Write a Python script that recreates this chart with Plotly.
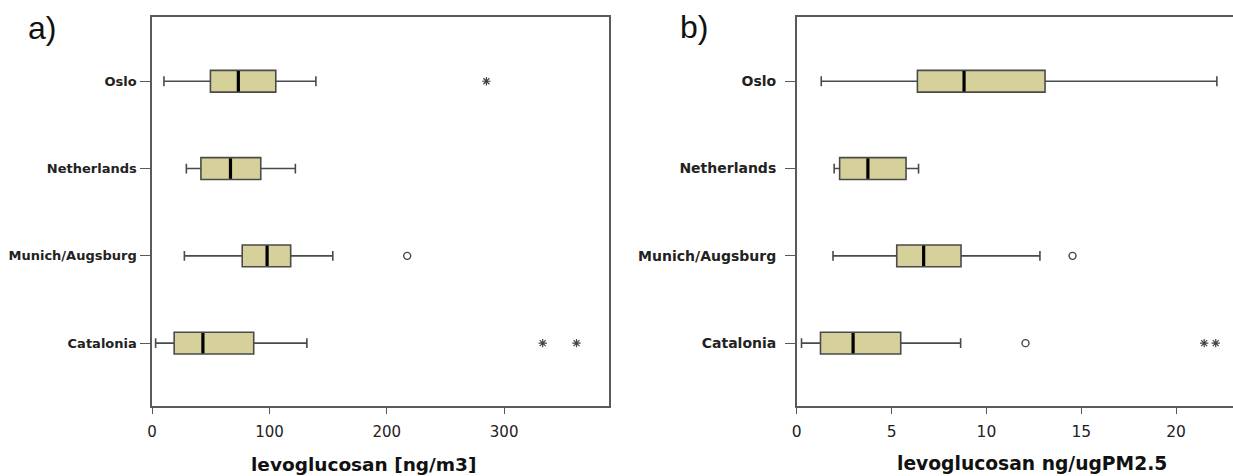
import plotly.graph_objects as go

# ---------------- data ----------------
categories = ["Oslo", "Netherlands", "Munich/Augsburg", "Catalonia"]

# panel a) levoglucosan [ng/m3]
a_low = [10.1, 29.2, 27.5, 3.0]
a_q1 = [49.7, 41.6, 76.8, 18.8]
a_med = [73.5, 66.8, 98.0, 43.3]
a_q3 = [105.4, 92.6, 118.1, 86.6]
a_high = [139.6, 122.1, 154.0, 131.9]
a_out_cat = ["Munich/Augsburg"]
a_out_val = [217.4]
a_ext_cat = ["Oslo", "Catalonia", "Catalonia"]
a_ext_val = [284.9, 332.9, 361.7]

# panel b) levoglucosan ng/ugPM2.5
b_low = [1.29, 1.97, 1.91, 0.25]
b_q1 = [6.36, 2.26, 5.27, 1.25]
b_med = [8.82, 3.75, 6.69, 2.97]
b_q3 = [13.09, 5.76, 8.66, 5.48]
b_high = [22.15, 6.42, 12.82, 8.64]
b_out_cat = ["Munich/Augsburg", "Catalonia"]
b_out_val = [14.54, 12.06]
b_ext_cat = ["Catalonia", "Catalonia"]
b_ext_val = [21.48, 22.09]

a_ticks = [0, 100, 200, 300]
b_ticks = [0, 5, 10, 15, 20]

# ---------------- style ----------------
W, H = 1233, 476
FILL = "#D6D09B"
EDGE = "#4a4a4a"
AX = "#5a5a5a"
FONT = "DejaVu Sans"

fig = go.Figure()


def add_panel(xa, ya, low, q1, med, q3, high, oc, ov, ec, ev):
    fig.add_trace(go.Box(
        y=categories, q1=q1, median=med, q3=q3,
        lowerfence=low, upperfence=high,
        orientation="h", boxpoints=False,
        fillcolor=FILL, line=dict(color=EDGE, width=1.6),
        width=0.25, whiskerwidth=0.45,
        xaxis=xa, yaxis=ya, showlegend=False, hoverinfo="skip"))
    fig.add_trace(go.Scatter(
        x=med, y=categories, mode="markers",
        marker=dict(symbol="line-ns", size=14.5,
                    line=dict(color="black", width=3.2)),
        xaxis=xa, yaxis=ya, showlegend=False, hoverinfo="skip"))
    fig.add_trace(go.Scatter(
        x=ov, y=oc, mode="markers",
        marker=dict(symbol="circle-open", size=7, color="#444",
                    line=dict(color="#444", width=1.4)),
        xaxis=xa, yaxis=ya, showlegend=False, hoverinfo="skip"))
    fig.add_trace(go.Scatter(
        x=ev, y=ec, mode="markers",
        marker=dict(symbol="asterisk-open", size=7, color="#444",
                    line=dict(color="#444", width=1.2)),
        xaxis=xa, yaxis=ya, showlegend=False, hoverinfo="skip"))


add_panel("x", "y", a_low, a_q1, a_med, a_q3, a_high,
          a_out_cat, a_out_val, a_ext_cat, a_ext_val)
add_panel("x2", "y2", b_low, b_q1, b_med, b_q3, b_high,
          b_out_cat, b_out_val, b_ext_cat, b_ext_val)

ydom = [(H - 406) / H, (H - 17) / H]
cat_order = categories[::-1]

fig.update_layout(
    width=W, height=H,
    margin=dict(l=0, r=0, t=0, b=0),
    paper_bgcolor="white", plot_bgcolor="white",
    xaxis=dict(domain=[147.7 / W, 606 / W], range=[0, 389],
               tickvals=a_ticks, ticks="outside", ticklen=6, tickwidth=1.3,
               tickcolor=AX, showline=True, linecolor=AX, linewidth=1.5,
               mirror=True, showgrid=False, zeroline=False,
               ticklabelstandoff=5,
               tickfont=dict(family=FONT, size=15, color="#222")),
    yaxis=dict(domain=ydom, type="category", categoryorder="array",
               categoryarray=cat_order, range=[-0.72, 3.736],
               ticks="outside", ticklen=10, tickwidth=1.3, tickcolor=AX,
               showline=True, linecolor=AX, linewidth=1.5, mirror=True,
               showgrid=False, zeroline=False, ticklabelstandoff=1,
               tickfont=dict(family=FONT, size=13, color="#222",
                             weight="bold")),
    xaxis2=dict(domain=[795 / W, 1.0], range=[0, 23.0], anchor="y2",
                tickvals=b_ticks, ticks="outside", ticklen=6, tickwidth=1.3,
                tickcolor=AX, showline=True, linecolor=AX, linewidth=1.5,
                mirror=True, showgrid=False, zeroline=False,
                ticklabelstandoff=5,
                tickfont=dict(family=FONT, size=15.5, color="#222")),
    yaxis2=dict(domain=ydom, anchor="x2", type="category",
                categoryorder="array", categoryarray=cat_order,
                range=[-0.72, 3.736],
                ticks="outside", ticklen=10, tickwidth=1.3, tickcolor=AX,
                showline=True, linecolor=AX, linewidth=1.5, mirror=False,
                showgrid=False, zeroline=False, ticklabelstandoff=6,
                tickfont=dict(family=FONT, size=14, color="#222",
                              weight="bold")),
    annotations=[
        dict(text="levoglucosan [ng/m3]", x=360 / W, y=(H - 464) / H,
             xref="paper", yref="paper", xanchor="center", yanchor="middle",
             showarrow=False,
             font=dict(family=FONT, size=18.5, color="#111", weight="bold")),
        dict(text="levoglucosan ng/ugPM2.5", x=1031 / W, y=(H - 463) / H,
             xref="paper", yref="paper", xanchor="center", yanchor="middle",
             showarrow=False,
             font=dict(family=FONT, size=18.7, color="#111", weight="bold")),
        dict(text="a)", x=37 / W, y=(H - 28) / H,
             xref="paper", yref="paper", xanchor="center", yanchor="middle",
             showarrow=False,
             font=dict(family="Liberation Sans", size=32, color="#111")),
        dict(text="b)", x=692 / W, y=(H - 27) / H,
             xref="paper", yref="paper", xanchor="center", yanchor="middle",
             showarrow=False,
             font=dict(family="Liberation Sans", size=32, color="#111")),
    ],
)

fig.write_html("out.html")
